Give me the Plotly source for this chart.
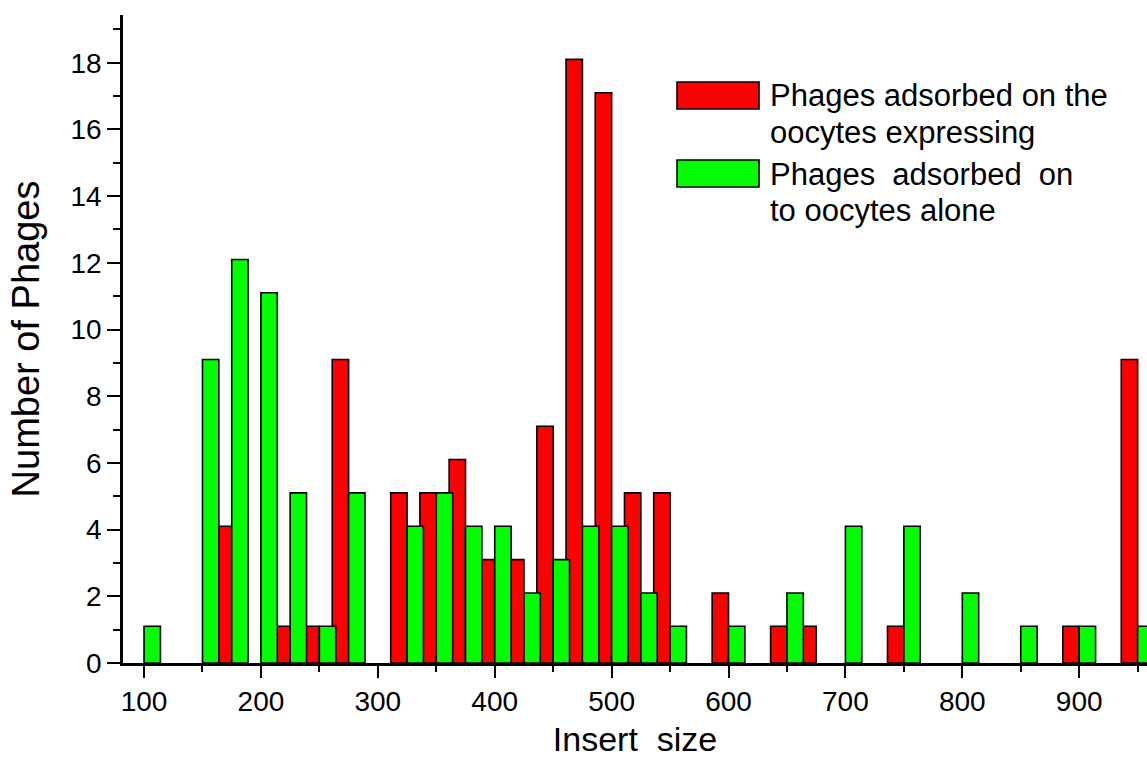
import plotly.graph_objects as go

# ---- data ----
bins = [100, 125, 150, 175, 200, 225, 250, 275, 300, 325, 350, 375, 400, 425, 450,
        475, 500, 525, 550, 575, 600, 625, 650, 675, 700, 725, 750, 775, 800, 825,
        850, 875, 900, 925, 950]
red_counts = [0, 0, 0, 4.1, 0, 1.1, 1.1, 9.1, 0, 5.1, 5.1, 6.1, 3.1, 3.1, 7.1,
              18.1, 17.1, 5.1, 5.1, 0, 2.1, 0, 1.1, 1.1, 0, 0, 1.1, 0, 0, 0,
              0, 0, 1.1, 0, 9.1]
green_counts = [1.1, 0, 9.1, 12.1, 11.1, 5.1, 1.1, 5.1, 0, 4.1, 5.1, 4.1, 4.1, 2.1, 3.1,
                4.1, 4.1, 2.1, 1.1, 0, 1.1, 0, 2.1, 0, 4.1, 0, 4.1, 0, 2.1, 0,
                1.1, 0, 1.1, 0, 1.1]
red_name = "Phages adsorbed on the<br>oocytes expressing"
green_name = "Phages\u00a0 adsorbed\u00a0 on<br>to oocytes alone"
x_ticks = [100, 200, 300, 400, 500, 600, 700, 800, 900]
y_ticks = [0, 2, 4, 6, 8, 10, 12, 14, 16, 18]

RED = "#FF0000"
GREEN = "#00FF00"
FONT = "Liberation Sans, Arial, sans-serif"

def nz(v):
    return [c if c else None for c in v]

fig = go.Figure()
fig.add_trace(go.Bar(x=bins, y=nz(red_counts), name=red_name, offset=-14, width=14,
                     marker=dict(color=RED, line=dict(color="black", width=1.6)),
                     showlegend=False))
fig.add_trace(go.Bar(x=bins, y=nz(green_counts), name=green_name, offset=0, width=14,
                     marker=dict(color=GREEN, line=dict(color="black", width=1.6)),
                     showlegend=False))

W, H = 1147, 758
L, R, T, B = 123, 0, 15, 95
pw, ph = W - L - R, H - T - B

def px(xp):
    return (xp - L) / pw

def py(yp):
    return (H - B - yp) / ph

# custom legend (swatches + text)
shapes = []
for (y0, y1, col) in [(82, 109, RED), (160, 187, GREEN)]:
    shapes.append(dict(type="rect", xref="paper", yref="paper",
                       x0=px(677), x1=px(759), y0=py(y1), y1=py(y0),
                       fillcolor=col, line=dict(color="black", width=1.6)))
annotations = []
lines = [(95, "Phages adsorbed on the"), (132, "oocytes expressing"),
         (174, "Phages\u00a0 adsorbed\u00a0 on"), (210, "to oocytes alone")]
for yc, txt in lines:
    annotations.append(dict(text=txt, xref="paper", yref="paper", x=px(768), y=py(yc),
                            xanchor="left", yanchor="middle", showarrow=False,
                            font=dict(family=FONT, size=31, color="black")))

fig.update_layout(
    width=W, height=H,
    margin=dict(l=L, r=R, t=T, b=B),
    paper_bgcolor="white", plot_bgcolor="white",
    barmode="overlay",
    font=dict(family=FONT, size=28, color="black"),
    shapes=shapes, annotations=annotations,
    showlegend=False,
)
fig.update_xaxes(
    range=[82, 958], tickvals=x_ticks, ticktext=[str(v) for v in x_ticks],
    ticks="outside", ticklen=12, tickwidth=2, tickcolor="black",
    showline=True, linecolor="black", linewidth=2.5, showgrid=False, zeroline=False,
    minor=dict(dtick=50, tick0=50, ticks="outside", ticklen=6, tickwidth=2, tickcolor="black", showgrid=False),
    tickfont=dict(family=FONT, size=28),
    title=dict(text="Insert\u00a0 size", font=dict(family=FONT, size=34), standoff=14),
)
fig.update_yaxes(
    range=[0, 19.43], tickvals=y_ticks, ticktext=[str(v) for v in y_ticks],
    ticks="outside", ticklen=13, tickwidth=2, tickcolor="black",
    showline=True, linecolor="black", linewidth=2.5, showgrid=False, zeroline=False,
    minor=dict(dtick=1, tick0=1, ticks="outside", ticklen=7, tickwidth=2, tickcolor="black", showgrid=False),
    tickfont=dict(family=FONT, size=28),
    title=dict(text="Number of Phages", font=dict(family=FONT, size=38), standoff=20),
)

fig.write_html("out.html")
